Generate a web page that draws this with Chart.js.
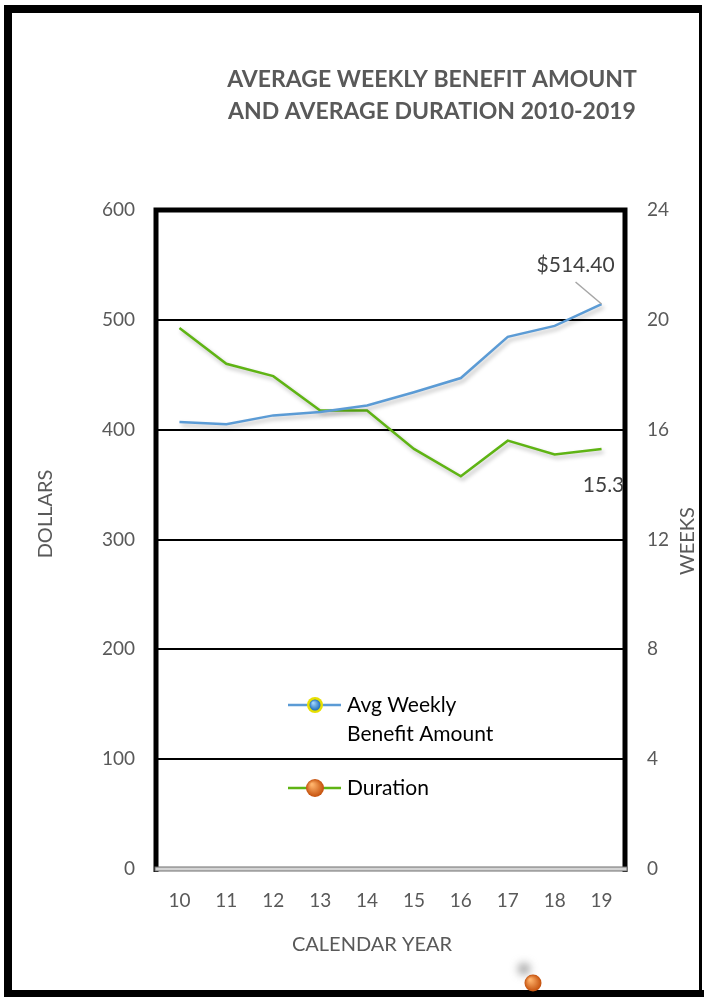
<!DOCTYPE html>
<html>
<head>
<meta charset="utf-8">
<script src="https://cdn.jsdelivr.net/npm/chart.js@4.4.1/dist/chart.umd.min.js"></script>
<style>
  html, body { margin: 0; padding: 0; background: #fff; }
  canvas { display: block; }
</style>
</head>
<body>
<canvas id="myChart" width="704" height="997"></canvas>
<script>
// Daten
var years = ['10', '11', '12', '13', '14', '15', '16', '17', '18', '19'];
var weeklyBenefit = [407, 405, 413, 416, 422, 434, 447, 484.5, 494.5, 514.40];
var duration = [19.7, 18.4, 17.95, 16.7, 16.7, 15.3, 14.3, 15.6, 15.1, 15.3];

var titleLines = ['AVERAGE WEEKLY BENEFIT AMOUNT', 'AND AVERAGE DURATION 2010-2019'];
var seriesNames = ['Avg Weekly Benefit Amount', 'Duration'];

var FONT = 'Lato, "Open Sans", sans-serif';
var BLUE = '#5b9bd5';
var GREEN = '#5fb414';
var GREY = '#595959';

function sphere(ctx, x, y, r, light, dark) {
    var g = ctx.createRadialGradient(x - r * 0.35, y - r * 0.4, r * 0.1, x, y, r);
    g.addColorStop(0, light);
    g.addColorStop(1, dark);
    ctx.beginPath();
    ctx.arc(x, y, r, 0, Math.PI * 2);
    ctx.fillStyle = g;
    ctx.fill();
}

var decorPlugin = {
    id: 'decor',
    beforeDraw: function (chart) {
        var ctx = chart.ctx;
        ctx.save();
        ctx.fillStyle = '#fff';
        ctx.fillRect(0, 0, chart.width, chart.height);
        ctx.restore();
    },
    beforeDatasetsDraw: function (chart) {
        var ctx = chart.ctx;
        ctx.save();
        ctx.shadowColor = 'rgba(0,0,0,0.28)';
        ctx.shadowBlur = 4;
        ctx.shadowOffsetX = 2;
        ctx.shadowOffsetY = 3;
    },
    afterDatasetsDraw: function (chart) {
        var ctx = chart.ctx;
        ctx.restore();
        var a = chart.chartArea;

        ctx.save();
        // Rahmen um die Zeichenfläche
        ctx.strokeStyle = '#000';
        ctx.lineWidth = 5;
        ctx.beginPath();
        ctx.moveTo(a.left, a.bottom + 3);
        ctx.lineTo(a.left, a.top);
        ctx.lineTo(a.right, a.top);
        ctx.lineTo(a.right, a.bottom + 3);
        ctx.stroke();
        // graue Nulllinie
        ctx.fillStyle = '#d4d4d4';
        ctx.fillRect(a.left - 1, a.bottom - 2, a.right - a.left + 3, 4);
        ctx.strokeStyle = '#6f6f6f';
        ctx.lineWidth = 1;
        ctx.strokeRect(a.left - 1, a.bottom - 2, a.right - a.left + 3, 4);

        // Datenbeschriftungen
        var last = years.length - 1;
        var p1 = chart.getDatasetMeta(0).data[last];
        var p2 = chart.getDatasetMeta(1).data[last];
        ctx.strokeStyle = '#a6a6a6';
        ctx.lineWidth = 1.5;
        ctx.beginPath();
        ctx.moveTo(p1.x - 26, p1.y - 22);
        ctx.lineTo(p1.x, p1.y);
        ctx.stroke();
        ctx.font = '21px ' + FONT;
        ctx.fillStyle = '#404040';
        ctx.textAlign = 'center';
        ctx.textBaseline = 'middle';
        ctx.fillText('$' + weeklyBenefit[last].toFixed(2), p1.x - 26, p1.y - 39);
        ctx.fillText(duration[last].toFixed(1), p2.x + 2, p2.y + 36);

        // Legende in der Zeichenfläche
        ctx.lineWidth = 2.5;
        ctx.strokeStyle = BLUE;
        ctx.beginPath();
        ctx.moveTo(288, 705);
        ctx.lineTo(341, 705);
        ctx.stroke();
        ctx.beginPath();
        ctx.arc(315, 705, 8, 0, Math.PI * 2);
        ctx.fillStyle = '#e8e000';
        ctx.fill();
        sphere(ctx, 315, 705, 5.5, '#9fd3ff', '#1f6fb8');
        ctx.strokeStyle = GREEN;
        ctx.beginPath();
        ctx.moveTo(288, 788);
        ctx.lineTo(341, 788);
        ctx.stroke();
        sphere(ctx, 315, 788, 9, '#ffb36b', '#c4500c');

        ctx.font = '21px ' + FONT;
        ctx.fillStyle = '#000';
        ctx.textAlign = 'left';
        ctx.fillText('Avg Weekly', 347, 705);
        ctx.fillText('Benefit Amount', 347, 734);
        ctx.fillText(seriesNames[1], 347, 788);

        // Titel
        ctx.font = 'bold 23px ' + FONT;
        ctx.fillStyle = GREY;
        ctx.textAlign = 'center';
        ctx.fillText(titleLines[0], 432, 80);
        ctx.fillText(titleLines[1], 432, 112);

        // Achsentitel
        ctx.font = '20px ' + FONT;
        ctx.fillText('CALENDAR YEAR', 372, 945);
        ctx.save();
        ctx.translate(46, 514);
        ctx.rotate(-Math.PI / 2);
        ctx.fillText('DOLLARS', 0, 0);
        ctx.restore();
        ctx.save();
        ctx.translate(688, 541);
        ctx.rotate(-Math.PI / 2);
        ctx.fillText('WEEKS', 0, 0);
        ctx.restore();

        // äußerer Rahmen
        ctx.fillStyle = '#000';
        ctx.fillRect(4, 5, 698, 8);
        ctx.fillRect(4, 5, 8, 992);
        ctx.fillRect(4, 990, 700, 7);
        ctx.fillRect(699, 5, 3, 992);

        // verirrter Marker unten
        ctx.save();
        ctx.filter = 'blur(4px)';
        ctx.beginPath();
        ctx.arc(524, 969, 6, 0, Math.PI * 2);
        ctx.fillStyle = 'rgba(120,120,120,0.7)';
        ctx.fill();
        ctx.restore();
        sphere(ctx, 533, 983, 8.5, '#ffb36b', '#c4500c');
        ctx.restore();
    }
};

var ctx = document.getElementById('myChart').getContext('2d');
var myChart = new Chart(ctx, {
    type: 'line',
    data: {
        labels: years,
        datasets: [{
            label: seriesNames[0],
            data: weeklyBenefit,
            borderColor: BLUE,
            borderWidth: 2.5,
            pointRadius: 0,
            tension: 0,
            yAxisID: 'y'
        }, {
            label: seriesNames[1],
            data: duration,
            borderColor: GREEN,
            borderWidth: 2.5,
            pointRadius: 0,
            tension: 0,
            yAxisID: 'y2'
        }]
    },
    options: {
        responsive: false,
        devicePixelRatio: 1,
        animation: false,
        layout: { padding: { top: 210, left: 0, right: 0, bottom: 0 } },
        plugins: {
            legend: { display: false },
            title: { display: false },
            tooltip: { enabled: false }
        },
        scales: {
            x: {
                offset: true,
                grid: { display: false, drawTicks: false },
                border: { display: false },
                ticks: { color: GREY, font: { family: FONT, size: 19 }, padding: 20 },
                afterFit: function (s) { s.height = 128; }
            },
            y: {
                position: 'left',
                min: 0,
                max: 600,
                ticks: { stepSize: 100, color: GREY, font: { family: FONT, size: 19 }, padding: 21 },
                grid: { color: '#000', lineWidth: 2, drawTicks: false },
                border: { display: false },
                afterFit: function (s) { s.width = 156; }
            },
            y2: {
                position: 'right',
                min: 0,
                max: 24,
                ticks: { stepSize: 4, color: GREY, font: { family: FONT, size: 19 }, padding: 22 },
                grid: { display: false, drawTicks: false },
                border: { display: false },
                afterFit: function (s) { s.width = 79; }
            }
        }
    },
    plugins: [decorPlugin]
});
</script>
</body>
</html>
